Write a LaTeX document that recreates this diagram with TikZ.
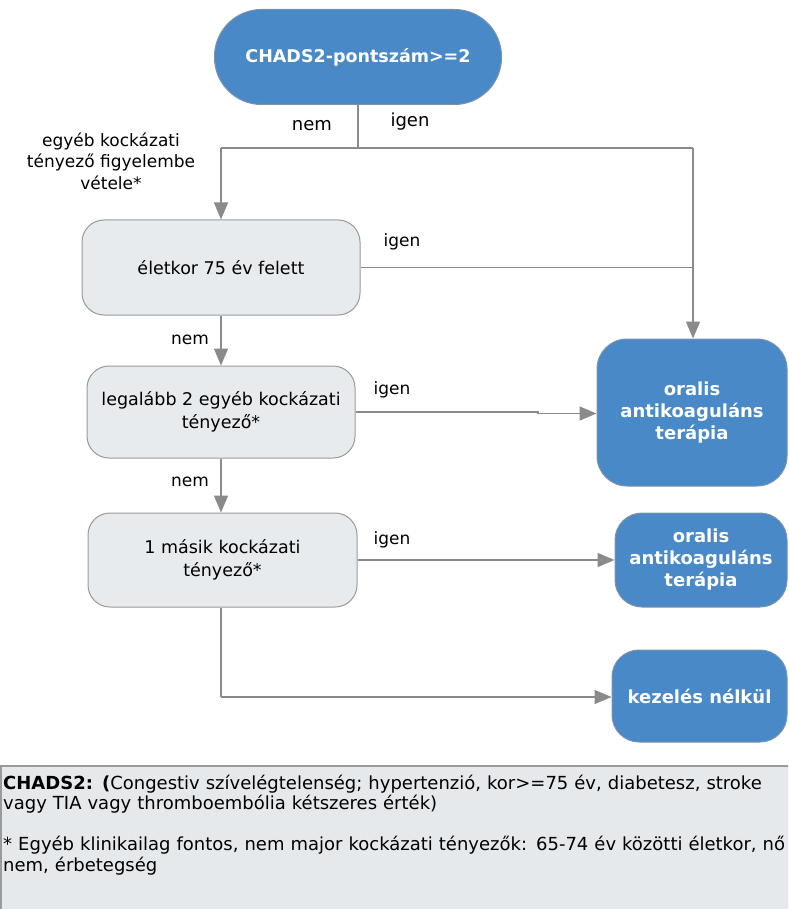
\documentclass[tikz,border=0pt]{standalone}
\usepackage{fontspec}
\setmainfont{DejaVu Sans}
\usetikzlibrary{arrows.meta}
\definecolor{bluebox}{HTML}{4A89C8}
\definecolor{blueedge}{HTML}{7A93AC}
\definecolor{grayfill}{HTML}{E8EBEE}
\definecolor{grayedge}{HTML}{9A9A9A}
\definecolor{linecol}{HTML}{8A8A8A}
\definecolor{notefill}{HTML}{E6E9EC}
\tikzset{
  bluenode/.style={draw=blueedge, line width=1pt, fill=bluebox, rounded corners=27pt,
    text=white, font=\fontsize{18}{22}\selectfont\bfseries, align=center, inner sep=0pt},
  graynode/.style={draw=grayedge, line width=1pt, fill=grayfill, rounded corners=22pt,
    font=\fontsize{17.5}{23}\selectfont, align=center, inner sep=0pt},
  conn/.style={draw=linecol, line width=1.5pt},
  arr/.style={conn, -{Triangle[width=14pt,length=17pt]}},
  lbl/.style={font=\fontsize{17}{20}\selectfont, inner sep=0pt}
}
\begin{document}
\begin{tikzpicture}[x=1pt,y=-1pt]
\clip (0,0) rectangle (788,909);
\fill[white] (0,0) rectangle (788,909);

% nodes
\node[bluenode, rounded corners=47pt, minimum width=287pt, minimum height=95pt, font=\fontsize{17.5}{21}\selectfont\bfseries] (top) at (358,57) {CHADS2-pontszám>=2};
\node[graynode, minimum width=278pt, minimum height=95pt] (b1) at (221,267.5) {életkor 75 év felett};
\node[graynode, minimum width=268pt, minimum height=92pt] (b2) at (221,412) {legalább 2 egyéb kockázati\\tényező*};
\node[graynode, minimum width=269pt, minimum height=94pt] (b3) at (222.5,560) {1 másik kockázati\\tényező*};
\node[bluenode, rounded corners=30pt, minimum width=190pt, minimum height=147pt] (o1) at (692,412.5) {oralis\\antikoaguláns\\terápia};
\node[bluenode, minimum width=172pt, minimum height=94pt] (o2) at (701,560) {oralis\\antikoaguláns\\terápia};
\node[bluenode, minimum width=175pt, minimum height=92pt] (k) at (699.5,696) {kezelés nélkül};

\node[font=\fontsize{17}{21.5}\selectfont, align=center, inner sep=0pt] (note) at (111,161) {egyéb kockázati\\tényező figyelembe\\vétele*};

% junction coordinates
\coordinate (jt) at (358,148);
\coordinate (jl) at (221,148);
\coordinate (jr) at (693,148);
\coordinate (j1) at (693,267.5);
\coordinate (jb) at (221,697);
\coordinate (jg1) at (538,412);
\coordinate (jg2) at (538,413.5);

% connectors
\draw[conn] (top.south) -- (jt);
\draw[conn] (jl) -- (jr);
\draw[arr] (jl) -- (b1.north);
\draw[arr] (jr) -- (o1.north -| jr);
\draw[conn] (b1.east) -- (j1);
\draw[arr] (b1.south) -- (b2.north -| b1.south);
\draw[arr] (b2.east) -- (jg1) -- (jg2) -- (o1.west |- jg2);
\draw[arr] (b2.south) -- (b3.north -| b2.south);
\draw[arr] (b3.east) -- (o2.west |- b3.east);
\draw[conn] (b3.south -| jb) -- (jb);
\draw[arr] (jb) -- (k.west |- jb);

% labels
\node[lbl, font=\fontsize{18}{20}\selectfont] (l1) at (312,126) {nem};
\node[lbl, font=\fontsize{18}{20}\selectfont] (l2) at (410,122) {igen};
\node[lbl] (l3) at (402,242) {igen};
\node[lbl] (l4) at (190,340) {nem};
\node[lbl] (l5) at (392,390) {igen};
\node[lbl] (l6) at (190,482) {nem};
\node[lbl] (l7) at (392,540) {igen};

% footnote box
\draw[draw=grayedge, line width=1.5pt, fill=notefill] (0.75,766) rectangle (800,920);
\node[anchor=base west, inner sep=0pt, align=left, text width=900pt,
  font=\fontsize{18}{20.5}\selectfont] (fn) at (3,789)
  {\textbf{CHADS2: (}Congestiv szívelégtelenség; hypertenzió, kor>=75 év, diabetesz, stroke\\
   vagy TIA vagy thromboembólia kétszeres érték)\\[20.5pt]
   * Egyéb klinikailag fontos, nem major kockázati tényezők: 65-74 év közötti életkor, nő\\
   nem, érbetegség};
\end{tikzpicture}
\end{document}
